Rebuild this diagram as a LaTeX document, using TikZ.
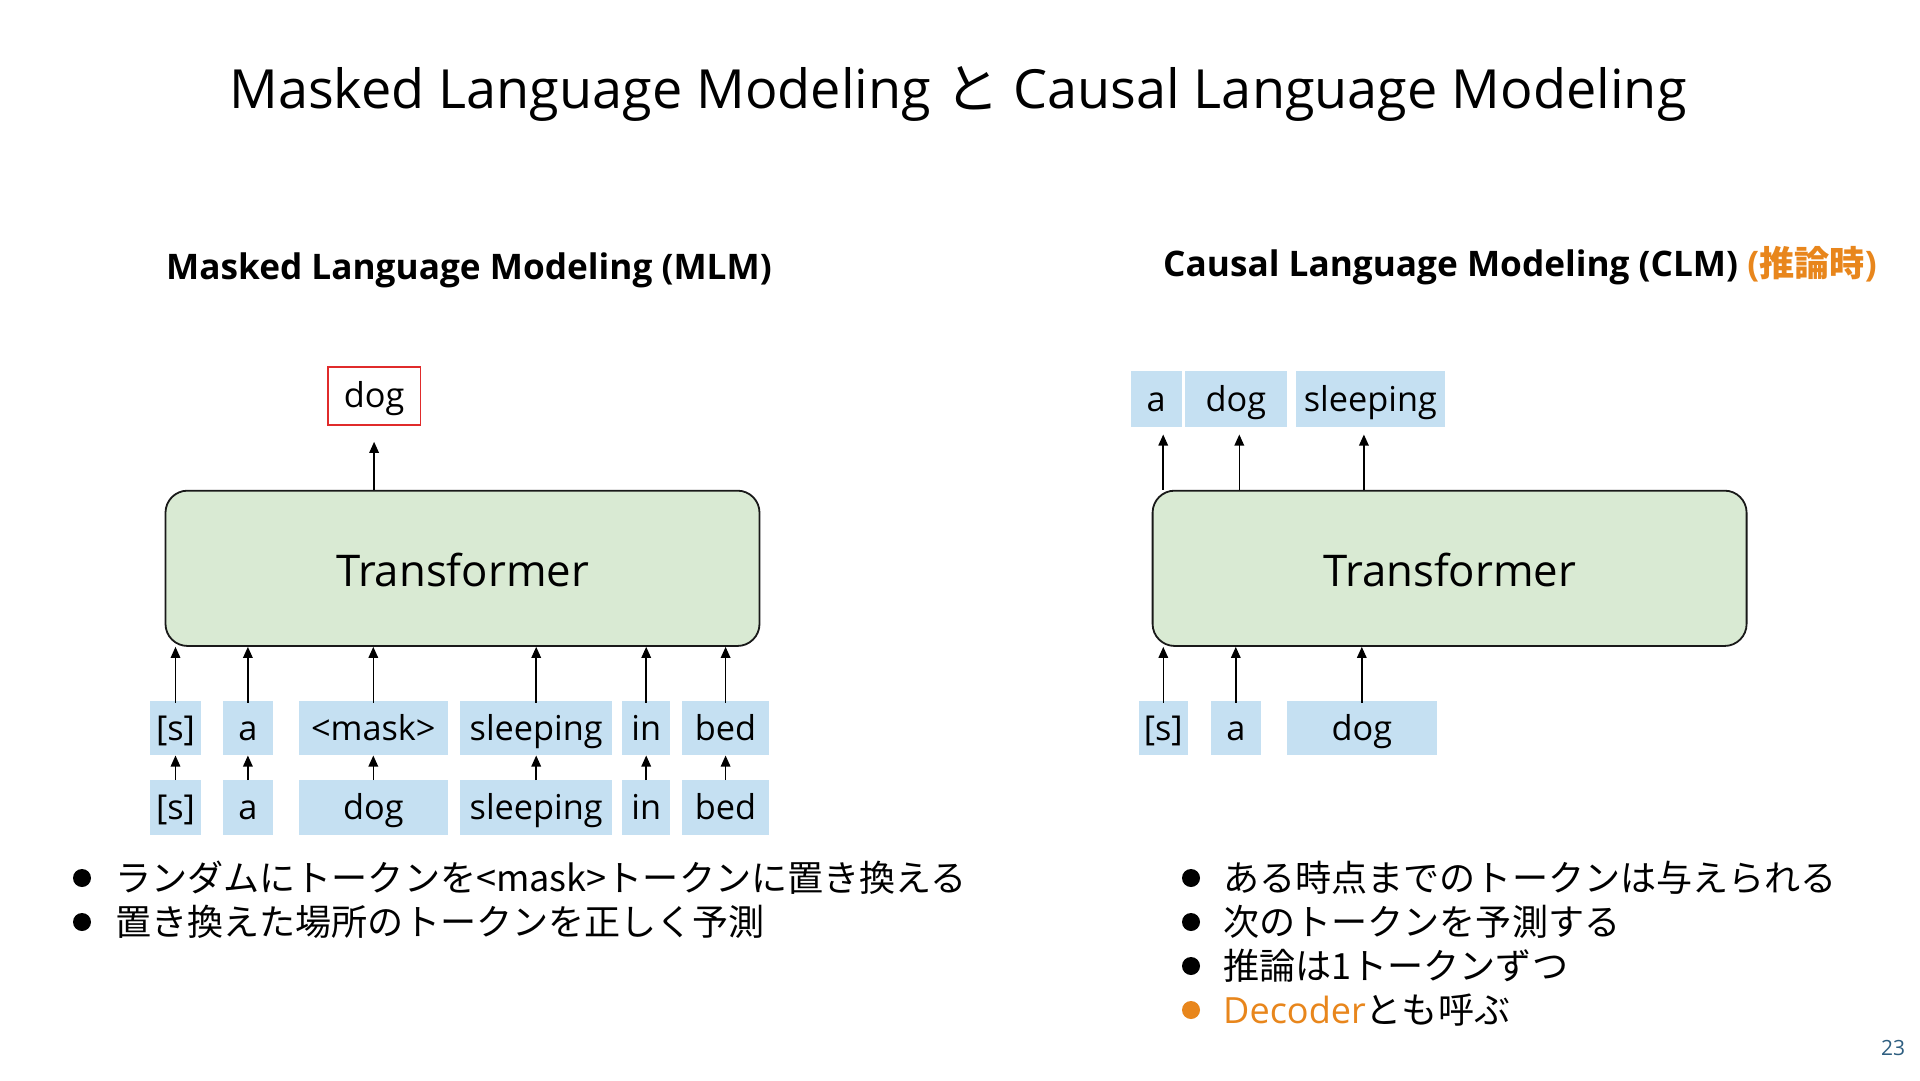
\documentclass[tikz,border=0pt]{standalone}
\usepackage{fontspec}
\setmainfont{Open Sans}
\newfontfamily\jp{Noto Sans CJK JP}
\usetikzlibrary{arrows.meta}
\definecolor{tokblue}{HTML}{C5E0F2}
\definecolor{trgreen}{HTML}{D9EAD3}
\definecolor{orng}{HTML}{E8861C}
\definecolor{redbox}{HTML}{E02B2B}
\definecolor{pgnum}{HTML}{2E5E80}
\begin{document}
\begin{tikzpicture}[x=1pt,y=-1pt,
  tok/.style={fill=tokblue, inner sep=0pt, minimum height=54.6pt,
    font=\fontsize{34.3}{40}\selectfont, text height=30pt, text depth=6pt},
  trans/.style={draw=black!90, line width=1.8pt, fill=trgreen, rounded corners=22pt,
    inner sep=0pt, minimum width=594pt, minimum height=155.3pt,
    font=\fontsize{43.7}{50}\selectfont, text height=40pt, text depth=3pt},
  arr/.style={-{Triangle[length=11pt,width=9.5pt]}, line width=1.5pt},
  heading/.style={anchor=base west, inner sep=0pt, font=\fontsize{35.2}{42}\bfseries\selectfont},
  bul/.style={anchor=base west, inner sep=0pt, font=\jp\fontsize{36.1}{42}\selectfont},
  dot/.style={circle, fill=black, inner sep=0pt, minimum size=18pt}
]
\useasboundingbox (0,0) rectangle (1920,1080);
\fill[white] (0,0) rectangle (1920,1080);

% title
\node[anchor=base, inner sep=0pt, font=\fontsize{54}{64}\selectfont] (title) at (958,108)
  {Masked Language Modeling {\jp と} Causal Language Modeling};

% headings
\node[heading] (hmlm) at (166,279) {Masked Language Modeling (MLM)};
\node[heading] (hclm) at (1163,276) {Causal Language Modeling (CLM) \textcolor{orng}{({\jp 推論時})}};

% ---------------- MLM ----------------
\node[trans] (tr1) at (462.5,568.3) {Transformer};
\node[draw=redbox, line width=1.5pt, inner sep=0pt, minimum width=92.6pt, minimum height=58.3pt,
  font=\fontsize{34.3}{40}\selectfont, text height=30pt, text depth=6pt] (out1) at (374.1,395.9) {dog};

\node[tok, minimum width=50.5pt] (s1) at (175.5,728) {[s]};
\node[tok, minimum width=50.5pt] (a1) at (247.9,728) {a};
\node[tok, minimum width=149pt] (m1) at (373.3,728) {<mask>};
\node[tok, minimum width=151.5pt] (sl1) at (536.2,728) {sleeping};
\node[tok, minimum width=47.6pt] (in1) at (646.2,728) {in};
\node[tok, minimum width=86.8pt] (b1) at (725.6,728) {bed};

\node[tok, minimum width=50.5pt] (s0) at (175.5,807.7) {[s]};
\node[tok, minimum width=50.5pt] (a0) at (247.9,807.7) {a};
\node[tok, minimum width=149pt] (d0) at (373.3,807.7) {dog};
\node[tok, minimum width=151.5pt] (sl0) at (536.2,807.7) {sleeping};
\node[tok, minimum width=47.6pt] (in0) at (646.2,807.7) {in};
\node[tok, minimum width=86.8pt] (b0) at (725.6,807.7) {bed};

\foreach \n in {s1,a1,m1,sl1,in1,b1}
  \draw[arr] ([yshift=-2pt]\n.north) -- (\n.north |- tr1.south);
\foreach \lo/\hi in {s0/s1,a0/a1,d0/m1,sl0/sl1,in0/in1,b0/b1}
  \draw[arr] (\lo.north) -- (\hi.south);
\draw[arr, shorten >=16pt] (out1.south |- tr1.north) -- (out1.south);

% ---------------- CLM ----------------
\node[trans] (tr2) at (1449.6,568.3) {Transformer};

\node[tok, minimum width=49.4pt] (cs) at (1163.3,728) {[s]};
\node[tok, minimum width=50.4pt] (ca) at (1235.8,728) {a};
\node[tok, minimum width=149.6pt] (cd) at (1361.8,728) {dog};

\node[tok, minimum width=50.8pt, minimum height=56.6pt] (oa) at (1156.2,399) {a};
\node[tok, minimum width=101.5pt, minimum height=56.6pt] (od) at (1235.8,399) {dog};
\node[tok, minimum width=149.6pt, minimum height=56.6pt] (os) at (1370.4,399) {sleeping};

\foreach \n in {cs,ca,cd}
  \draw[arr] ([yshift=-2pt]\n.north) -- (\n.north |- tr2.south);
\draw[arr, shorten >=7pt] ([xshift=7pt]oa.south |- tr2.north) -- ([xshift=7pt]oa.south);
\draw[arr, shorten >=7pt] ([xshift=3.5pt]od.south |- tr2.north) -- ([xshift=3.5pt]od.south);
\draw[arr, shorten >=7pt] ([xshift=-6.5pt]os.south |- tr2.north) -- ([xshift=-6.5pt]os.south);

% ---------------- bullets ----------------
\node[dot] (d1) at (82,878) {};
\node[bul] (l1) at (115,891) {ランダムにトークンを<mask>トークンに置き換える};
\node[dot] (d2) at (82,922) {};
\node[bul] (l2) at (115,935) {置き換えた場所のトークンを正しく予測};

\node[dot] (e1) at (1191,878) {};
\node[bul] (r1) at (1223,891) {ある時点までのトークンは与えられる};
\node[dot] (e2) at (1191,922) {};
\node[bul] (r2) at (1223,935) {次のトークンを予測する};
\node[dot] (e3) at (1191,966) {};
\node[bul] (r3) at (1223,979) {推論は1トークンずつ};
\node[dot, fill=orng] (e4) at (1191,1010) {};
\node[bul] (r4) at (1223,1023) {\textcolor{orng}{\fontspec{Open Sans}Decoder}とも呼ぶ};

% page number
\node[inner sep=0pt, font=\fontsize{21}{25}\selectfont, text=pgnum] (pg) at (1893,1048) {23};
\end{tikzpicture}
\end{document}
